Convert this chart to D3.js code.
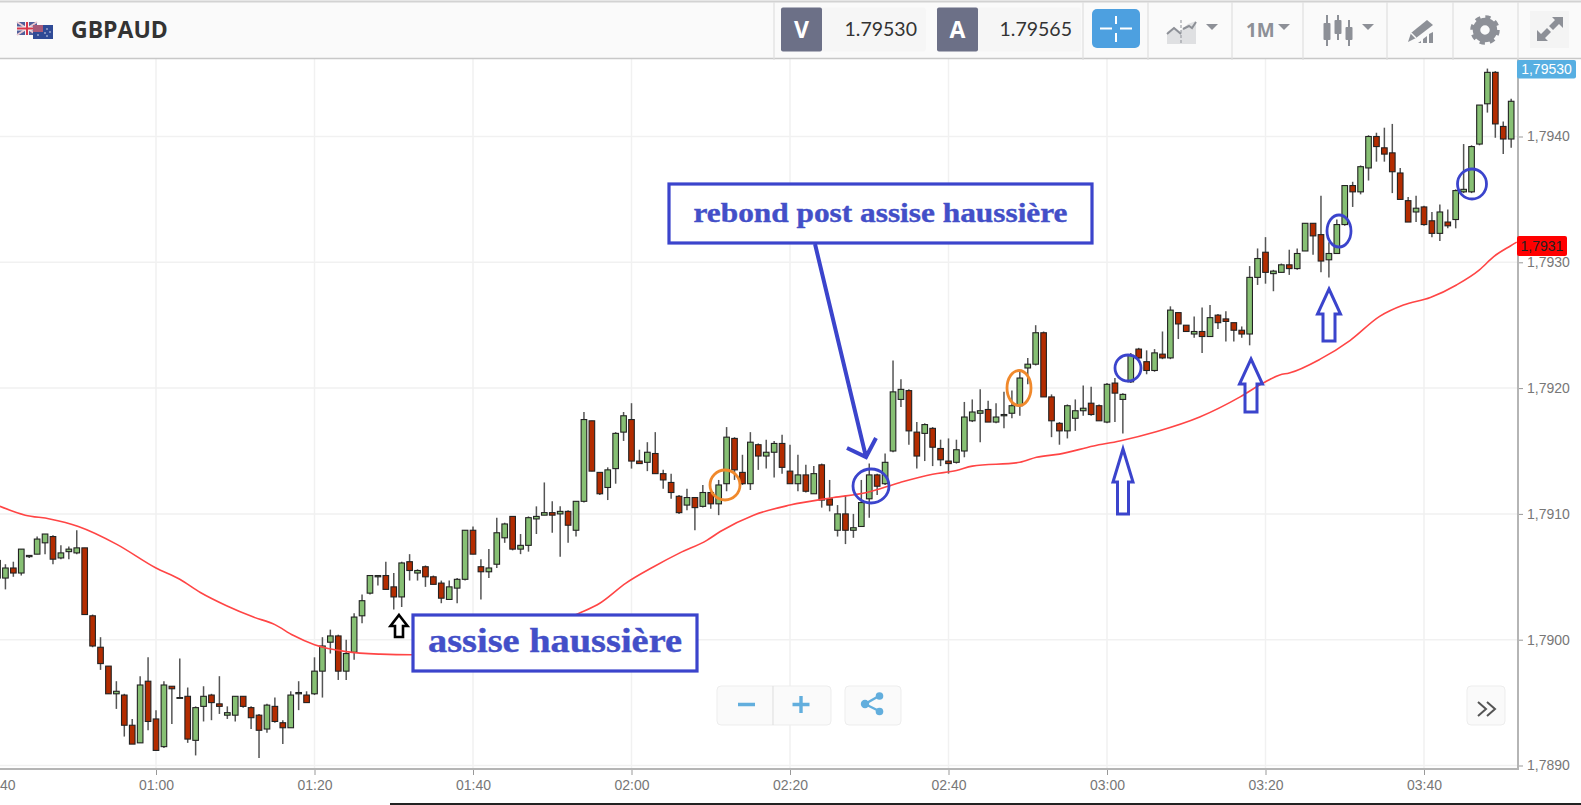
<!DOCTYPE html>
<html><head><meta charset="utf-8">
<script src="https://cdn.jsdelivr.net/npm/d3@7"></script>
<style>html,body{margin:0;padding:0;background:#fff;overflow:hidden}svg{display:block}</style>
</head><body><svg id="c" width="1581" height="805"></svg>
<script>
// Prices are stored in points (0.00001) above this base.
const priceBase = 1.789;
const firstMinute = 40; // 00:40
const opens = [149,149,157,153,166,168,177,182,165,170,169,173,119,94,79,57,56,32,18,67,
37,15,63,54,55,20,47,56,49,40, 40,55,46,40,29,47,34,30,57,56, 57,75,98,103,75,90,119,137,150,151,
142,134,162,153,158,150,145,132,141,148, 187,158,154,160,181,198,172,175,196,199,
201,200,202,187,210,274,233,221,236,265, 275,242,241,248,232,225,214,207,213,206,
217,208,224,260,233,224,255,246,249,256, 234,224,231,216,239,212,187,200,187,190,
212,231,224,250,291,298,265,264,268,252, 242,241,250,274,280,283,273,278,280,286,
316,319,344,293,272,266,276,282,288,286, 273,304,291,305,331,321,314,327,324,360,
350,343,345,341,358,355,352,346,343,388, 408,391,392,398,395,409,431,422,402,407,
430,461,456,475,500,491,487,471,449,440, 444,433,423,432,434,456,456,494,526,551, 508,498];
const highs = [165,160,162,172,167,182,184,183,175,174,187,173,120,102,79,67,57,37,71,86,
44,67,63,85,62,47,63,57,71,47, 55,55,47,41,49,54,36,59,67,59, 86,102,108,104,100,121,136,151,151,162,
153,162,168,156,159,151,147,147,149,187, 190,164,172,197,193,198,184,198,206,225,
210,206,203,210,281,274,233,237,265,281, 288,251,257,265,235,232,215,220,213,223,
219,227,269,261,247,265,256,259,258,263, 255,247,239,238,240,227,207,215,200,227,
240,232,248,322,307,299,273,272,269,259, 260,259,289,291,299,290,288,297,298,313,
324,350,345,295,273,287,291,302,301,287, 304,308,296,328,332,330,331,345,365,360,
350,357,364,366,359,361,352,349,397,411, 420,394,399,410,411,431,431,453,416,434,
461,464,477,501,503,507,510,475,452,453, 445,440,446,442,458,494,493,525,554,552, 512,530];
const lows = [147,140,150,151,165,168,168,160,164,164,168,120,94,76,57,45,23,17,18,28,
12,14,33,54,18,8,35,36,41,37, 35,46,29,6,26,34,17,30,44,50, 56,54,89,68,68,84,113,136,143,140,
124,126,147,147,142,144,129,132,129,147, 168,132,149,157,177,171,168,170,184,199,
185,166,177,182,209,234,215,211,224,258, 236,240,234,232,220,212,200,203,187,205,
204,199,218,227,223,219,235,236,229,232, 224,218,217,216,205,202,182,176,181,190,
197,215,223,249,285,255,236,242,238,238, 232,240,245,273,257,273,272,268,276,278,
303,318,293,261,255,260,266,278,278,274, 272,273,264,304,323,311,313,323,323,339,
345,340,328,341,347,337,337,340,334,382, 383,377,392,390,394,409,406,392,388,407,
429,444,454,465,480,480,455,450,432,432, 429,420,417,427,427,455,455,493,519,499, 486,491];
const closes = [163,157,153,172,167,180,184,164,169,172,173,120,95,81,57,59,32,17,64,35,
12,64,61,54,21,46,55,50,47,42, 55,47,38,28,48,35,30,56,58,50, 75,95,103,75,89,118,131,151,151,140,
134,161,155,155,150,144,133,142,148,187, 168,154,157,185,192,172,175,197,198,201,
199,202,191,210,275,234,216,235,264,278, 242,240,249,232,227,217,201,213,205,217,
208,223,261,235,224,257,246,249,256,237, 224,231,218,232,211,207,200,187,189,209,
231,222,241,297,299,266,246,271,253,243, 240,251,277,281,282,273,277,279,286,308,
319,344,293,274,266,286,282,284,279,274, 303,296,295,326,324,314,328,324,362,351,
345,345,341,356,352,353,346,343,388,403, 392,393,398,395,407,431,421,401,407,430,
461,456,476,500,492,486,472,450,432,443, 430,423,440,429,457,458,492,525,551,510, 498,528];
const maMinutes = [40.3,43.5,46.6,50.2,55,60,63,65.6,68.9,72.3,75,77.3,80,84,88.3,92.3,113.4,116,119.3,122.8,126.1,129.5,131.2,135.4,140,145.5,149.7,153.9,158,161,163,169,171.1,174,178.3,181.6,186.3,191.7,196.8,199.7,201.8,203,206.9,210.7,214.4,217.4,220.8,224.1,227,228.8,230.9,231.7];
const maValues = [206,199,196,190,176,157,148,137.5,127,118,112,103.5,96,90.5,88.5,88,121,129,145,158,169,179,186,199,207,213,217,225,231.5,234.5,238,241,245,247.5,254,258,265.5,277,293,304,310.5,312,323,338,357,366,372,382,394,404.5,413,416];
const timeTicks = [40,60,80,100,120,140,160,180,200,220];
const timeLabels = ["00:40","01:00","01:20","01:40","02:00","02:20","02:40","03:00","03:20","03:40"];
const priceTicks = [1.789,1.79,1.791,1.792,1.793,1.794];
const priceLabels = ["1,7890","1,7900","1,7910","1,7920","1,7930","1,7940"];
const symbol = "GBPAUD", bidLabel = "V", bid = "1.79530", askLabel = "A", ask = "1.79565", period = "1M";
const lastPrice = "1,79530", maPrice = "1,7931";
const note1 = "assise haussière", note2 = "rebond post assise haussière";

const svg = d3.select("#c");
const W = 1581, axisX = 1518, axisY = 769, plotTop = 59;
const x = d3.scaleLinear().domain([60, 60 + (axisX - 156) / 7.925]).range([156, axisX]);
const y = d3.scaleLinear().domain([1.789, 1.795]).range([765.5, 10.7]);
const px = v => y(priceBase + v * 1e-5);

svg.append("rect").attr("width", W).attr("height", 805).attr("fill", "#fff");
svg.append("defs").append("clipPath").attr("id", "plot").append("rect")
  .attr("x", 0).attr("y", plotTop).attr("width", axisX).attr("height", axisY - plotTop);

// grid
const grid = svg.append("g").attr("stroke", "#f1f1f1").attr("stroke-width", 1.5);
grid.selectAll(".v").data(timeTicks).join("line").attr("x1", d => x(d)).attr("x2", d => x(d)).attr("y1", plotTop).attr("y2", axisY);
grid.selectAll(".h").data(priceTicks).join("line").attr("x1", 0).attr("x2", axisX).attr("y1", d => y(d)).attr("y2", d => y(d));

const plot = svg.append("g").attr("clip-path", "url(#plot)");
// candles
const rows = opens.map((o, i) => ({ m: firstMinute + i, o, h: highs[i], l: lows[i], c: closes[i] }));
const cg = plot.selectAll("g.k").data(rows).join("g").attr("class", "k");
cg.append("line").attr("x1", d => x(d.m)).attr("x2", d => x(d.m)).attr("y1", d => px(d.h)).attr("y2", d => px(d.l))
  .attr("stroke", "#555").attr("stroke-width", 1.5);
cg.append("rect").attr("x", d => x(d.m) - 2.8).attr("width", 5.6)
  .attr("y", d => px(Math.max(d.o, d.c))).attr("height", d => Math.max(0.8, Math.abs(px(d.o) - px(d.c))))
  .attr("fill", d => d.c >= d.o ? "#87c074" : "#b32c00").attr("stroke", "#222").attr("stroke-width", 1.1);
// moving average
plot.append("path").datum(maMinutes.map((m, i) => [m, maValues[i]]))
  .attr("fill", "none").attr("stroke", "#ff4545").attr("stroke-width", 1.6)
  .attr("d", d3.line().x(d => x(d[0])).y(d => px(d[1])).curve(d3.curveMonotoneX));

// axes
const ax = svg.append("g").attr("transform", `translate(0,${axisY})`)
  .call(d3.axisBottom(x).tickValues(timeTicks).tickFormat((d, i) => timeLabels[i]).tickSize(6).tickPadding(5));
const ay = svg.append("g").attr("transform", `translate(${axisX},0)`)
  .call(d3.axisRight(y).tickValues(priceTicks).tickFormat((d, i) => priceLabels[i]).tickSize(5).tickPadding(4));
[ax, ay].forEach(g => {
  g.select(".domain").remove();
  g.selectAll("line").attr("stroke", "#999");
  g.selectAll("text").attr("fill", "#777").attr("font-family", "Liberation Sans").attr("font-size", 14);
});
svg.append("line").attr("x1", 0).attr("x2", axisX + 1).attr("y1", axisY).attr("y2", axisY).attr("stroke", "#b5b5b5").attr("stroke-width", 2);
svg.append("line").attr("x1", axisX).attr("x2", axisX).attr("y1", plotTop).attr("y2", axisY).attr("stroke", "#b5b5b5").attr("stroke-width", 2);
svg.append("rect").attr("x", 390).attr("y", 803).attr("width", W - 390).attr("height", 2).attr("fill", "#222");

// header
const hd = svg.append("g");
hd.append("rect").attr("width", W).attr("height", 58).attr("fill", "#fafafa");
hd.append("line").attr("x1", 0).attr("x2", W).attr("y1", 1.5).attr("y2", 1.5).attr("stroke", "#d2d2d2").attr("stroke-width", 2);
hd.append("line").attr("x1", 0).attr("x2", W).attr("y1", 58.5).attr("y2", 58.5).attr("stroke", "#c8c8c8").attr("stroke-width", 1.5);
[774, 1083, 1148, 1232, 1303, 1387, 1453, 1518].forEach(s =>
  hd.append("line").attr("x1", s).attr("x2", s).attr("y1", 2).attr("y2", 60).attr("stroke", "#e0e0e0").attr("stroke-width", 1.2));
// flags
const uk = hd.append("g");
uk.append("rect").attr("x", 17).attr("y", 22).attr("width", 20).attr("height", 13).attr("fill", "#4f5f9c");
uk.append("path").attr("d", "M17 22L37 35M37 22L17 35").attr("stroke", "#e8c8d0").attr("stroke-width", 2);
uk.append("path").attr("d", "M27 22V35M17 28.5H37").attr("stroke", "#f3f3f3").attr("stroke-width", 4);
uk.append("path").attr("d", "M27 22V35M17 28.5H37").attr("stroke", "#d8374a").attr("stroke-width", 2);
const au = hd.append("g");
au.append("rect").attr("x", 33).attr("y", 25).attr("width", 20).attr("height", 14).attr("fill", "#2f4a96");
au.append("rect").attr("x", 33).attr("y", 25).attr("width", 10).attr("height", 7).attr("fill", "#a85a78");
[[47, 29], [50, 32], [45, 33], [47, 36], [38, 35]].forEach(p => au.append("circle").attr("cx", p[0]).attr("cy", p[1]).attr("r", .8).attr("fill", "#dfe4f4"));
hd.append("text").text(symbol).attr("x", 71).attr("y", 37.5).attr("font-family", "Open Sans").attr("font-weight", 700).attr("font-size", 23).attr("fill", "#333");
function quote(x0, x1, x2, lab, val, tx) {
  hd.append("rect").attr("x", x0).attr("y", 7.5).attr("width", x2 - x0).attr("height", 44).attr("rx", 3).attr("fill", "#f6f6f6");
  hd.append("rect").attr("x", x0).attr("y", 7.5).attr("width", x1 - x0).attr("height", 44).attr("rx", 2).attr("fill", "#6c7087");
  hd.append("text").text(lab).attr("x", (x0 + x1) / 2).attr("y", 37.5).attr("text-anchor", "middle").attr("font-family", "Open Sans").attr("font-weight", 700).attr("font-size", 23).attr("fill", "#fff");
  hd.append("text").text(val).attr("x", tx).attr("y", 35.5).attr("text-anchor", "end").attr("font-family", "Lato").attr("font-size", 19.5).attr("fill", "#333");
}
quote(781, 822, 926, bidLabel, bid, 917);
quote(937, 978, 1081, askLabel, ask, 1072);
hd.append("rect").attr("x", 1092).attr("y", 9).attr("width", 48).attr("height", 39).attr("rx", 5).attr("fill", "#4da0e0");
hd.append("path").attr("d", "M1100 28.5H1112M1120 28.5H1132M1116 16V24M1116 33V42").attr("stroke", "#fff").attr("stroke-width", 2);
const ic = "#8d9097";
// chart-type icon
hd.append("path").attr("d", "M1167 44V32L1174 27L1181 32V44Z").attr("fill", "#dfe0e2");
hd.append("path").attr("d", "M1181 30L1188 24L1196 21V44H1181Z").attr("fill", "#dfe0e2");
hd.append("path").attr("d", "M1167 34L1174 28L1181 34M1183 29L1189 26L1192 28L1196 22").attr("fill", "none").attr("stroke", ic).attr("stroke-width", 2);
hd.append("line").attr("x1", 1181).attr("x2", 1181).attr("y1", 20).attr("y2", 44).attr("stroke", ic).attr("stroke-dasharray", "3 2");
const tri = cx => hd.append("path").attr("d", `M${cx - 6} 24H${cx + 6}L${cx} 30Z`).attr("fill", ic);
tri(1212); tri(1284); tri(1368);
hd.append("text").text(period).attr("x", 1246).attr("y", 37).attr("font-family", "Open Sans").attr("font-weight", 700).attr("font-size", 19).attr("fill", ic);
// candles icon
[[1327, 15, 46, 23, 40], [1338, 15, 40, 20, 34], [1349, 20, 46, 27, 40]].forEach(c => {
  hd.append("line").attr("x1", c[0]).attr("x2", c[0]).attr("y1", c[1]).attr("y2", c[2]).attr("stroke", ic).attr("stroke-width", 2);
  hd.append("rect").attr("x", c[0] - 3.5).attr("y", c[3]).attr("width", 7).attr("height", c[4] - c[3]).attr("rx", 1).attr("fill", ic);
});
// drawing icon
hd.append("path").attr("d", "M1433 32V43H1429V34ZM1427 36V43H1423V39ZM1421 41V43H1418Z").attr("fill", ic);
hd.append("path").attr("d", "M1411 33L1427 20L1433 25L1416 38L1408 42Z").attr("fill", ic);
hd.append("path").attr("d", "M1411 33L1416 38").attr("stroke", "#fafafa").attr("stroke-width", 1.4);
// gear
hd.append("circle").attr("cx", 1485).attr("cy", 30).attr("r", 8.5).attr("fill", "none").attr("stroke", ic).attr("stroke-width", 7.5);
hd.append("circle").attr("cx", 1485).attr("cy", 30).attr("r", 13).attr("fill", "none").attr("stroke", ic).attr("stroke-width", 3.5).attr("stroke-dasharray", "5.2 5");
// fullscreen
hd.append("rect").attr("x", 1530).attr("y", 11).attr("width", 39).attr("height", 37).attr("fill", "#f4f4f4");
hd.append("path").attr("d", "M1552 17H1563V28L1559 24L1553 30L1549 26L1555 20ZM1537 41V30L1541 34L1547 28L1551 32L1545 38L1548 41Z").attr("fill", ic);

// price labels
const tag = (x0, y0, w, h, fill, col, txt) => {
  svg.append("rect").attr("x", x0).attr("y", y0).attr("width", w).attr("height", h).attr("rx", 2).attr("fill", fill);
  svg.append("text").text(txt).attr("x", x0 + w / 2).attr("y", y0 + h / 2 + 5).attr("text-anchor", "middle").attr("font-family", "Liberation Sans").attr("font-size", 14).attr("fill", col);
};
tag(1517, 60, 59, 18.5, "#57afe2", "#fff", lastPrice);
tag(1517, 236, 50, 20, "#ff0000", "#222", maPrice);

// zoom controls
const btn = (x0, w) => svg.append("rect").attr("x", x0).attr("y", 686).attr("width", w).attr("height", 39).attr("rx", 4)
  .attr("fill", "#fafafa").attr("fill-opacity", .92).attr("stroke", "#ededed").attr("stroke-width", 1);
btn(717, 114); btn(845, 56); btn(1467, 38);
svg.append("line").attr("x1", 773).attr("x2", 773).attr("y1", 686).attr("y2", 725).attr("stroke", "#ddd");
const blue2 = "#62aedd";
svg.append("path").attr("d", "M738 704.5H755M792.5 704.5H809.5M801 696V713").attr("stroke", blue2).attr("stroke-width", 3.4).attr("fill", "none");
svg.append("path").attr("d", "M879 696L865 704L879 711").attr("stroke", blue2).attr("stroke-width", 2.4).attr("fill", "none");
[[879.5, 696, 3.8], [879.5, 711.5, 3.8], [865, 704, 4.2]].forEach(p => svg.append("circle").attr("cx", p[0]).attr("cy", p[1]).attr("r", p[2]).attr("fill", blue2));
svg.append("path").attr("d", "M1478 702L1486 709L1478 716M1487 702L1495 709L1487 716").attr("fill", "none").attr("stroke", "#555").attr("stroke-width", 2);

// annotations
const blue = "#3b44cc", txt = "#434fc8";
const box = (x0, y0, w, h, t, fs, tl, ty) => {
  svg.append("rect").attr("x", x0).attr("y", y0).attr("width", w).attr("height", h).attr("fill", "#fff").attr("stroke", blue).attr("stroke-width", 3.2);
  svg.append("text").text(t).attr("x", x0 + w / 2).attr("y", ty).attr("text-anchor", "middle").attr("font-family", "Liberation Serif").attr("font-weight", 700)
    .attr("font-size", fs).attr("fill", txt).attr("stroke", txt).attr("stroke-width", .4).attr("textLength", tl).attr("lengthAdjust", "spacingAndGlyphs");
};
box(413, 615, 284, 56, note1, 34, 254, 652);
box(669, 184, 423, 59, note2, 28, 374, 222);
svg.append("path").attr("d", "M815 244L866 457M847 448L866 457L876 438").attr("fill", "none").attr("stroke", blue).attr("stroke-width", 4);
const ell = (cx, cy, rx, ry, col) => svg.append("ellipse").attr("cx", cx).attr("cy", cy).attr("rx", rx).attr("ry", ry).attr("fill", "none").attr("stroke", col).attr("stroke-width", 2.8);
ell(725, 485, 15, 15, "#f0892c"); ell(1019, 388, 12, 17.5, "#f0892c");
ell(871, 486, 18, 17, blue); ell(1128, 368, 13, 13, blue); ell(1339, 231, 12, 16, blue); ell(1472, 184, 14.5, 15, blue);
const arrow = (tip, tipY, baseY, hw, sw, botY, col, sws) => svg.append("path")
  .attr("d", `M${tip} ${tipY}L${tip + hw} ${baseY}H${tip + sw}V${botY}H${tip - sw}V${baseY}H${tip - hw}Z`)
  .attr("fill", "none").attr("stroke", col).attr("stroke-width", sws);
arrow(1123, 449, 482, 10, 5.5, 514, blue, 3);
arrow(1251, 359, 384, 11.5, 6, 412, blue, 3);
arrow(1329, 289, 314, 11.5, 6, 341, blue, 3);
arrow(399, 615, 626, 8.5, 4, 637, "#000", 2.6);
</script></body></html>
